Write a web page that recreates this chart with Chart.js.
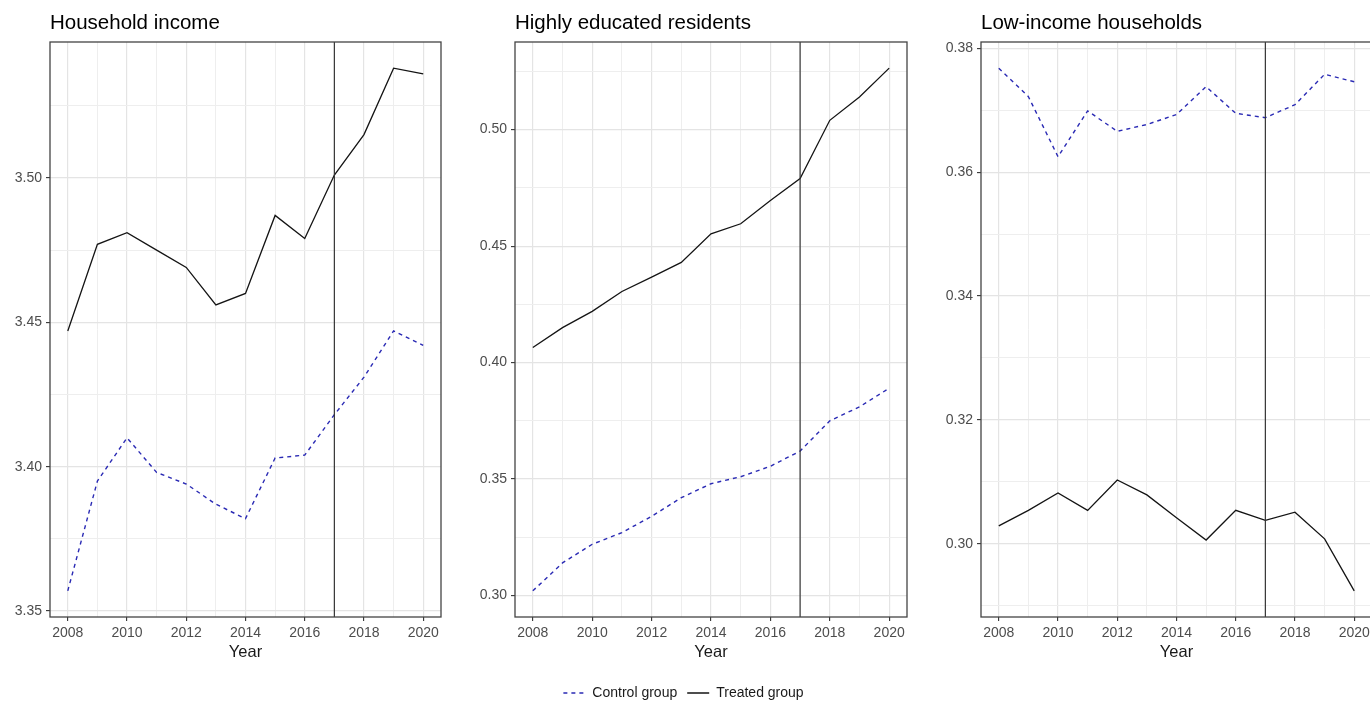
<!DOCTYPE html>
<html><head><meta charset="utf-8">
<script src="https://cdn.jsdelivr.net/npm/chart.js@4/dist/chart.umd.min.js"></script>
<style>
html,body{margin:0;padding:0;overflow:hidden;background:#fff;width:1370px;height:701px;position:relative;}
canvas{position:absolute;top:0;}
</style></head><body>
<canvas id="c1" width="460" height="701" style="left:0px"></canvas>
<canvas id="c2" width="452" height="710" style="left:460px"></canvas>
<canvas id="c3" width="460" height="701" style="left:920px"></canvas>
<script>
// ---- data ----
const years = [2008, 2009, 2010, 2011, 2012, 2013, 2014, 2015, 2016, 2017, 2018, 2019, 2020];
const seriesNames = ['Control group', 'Treated group'];
const panelTitles = ['Household income', 'Highly educated residents', 'Low-income households'];
const axisTitle = 'Year';
const treatmentYear = 2017;

const incomeControl = [3.357, 3.395, 3.410, 3.398, 3.394, 3.387, 3.382, 3.403, 3.404, 3.418, 3.431, 3.447, 3.442];
const incomeTreated = [3.447, 3.477, 3.481, 3.475, 3.469, 3.456, 3.460, 3.487, 3.479, 3.501, 3.515, 3.538, 3.536];

const eduControl = [0.302, 0.314, 0.322, 0.327, 0.334, 0.342, 0.348, 0.351, 0.3555, 0.362, 0.375, 0.381, 0.389];
const eduTreated = [0.4065, 0.415, 0.422, 0.4305, 0.4367, 0.443, 0.4553, 0.4596, 0.4696, 0.479, 0.504, 0.514, 0.5264];

const lowControl = [0.3768, 0.3722, 0.3625, 0.3699, 0.3666, 0.3677, 0.3693, 0.3738, 0.3695, 0.3688, 0.3709, 0.3758, 0.3746];
const lowTreated = [0.3029, 0.3054, 0.3082, 0.3054, 0.3103, 0.3079, 0.3042, 0.3006, 0.3054, 0.3038, 0.3051, 0.3008, 0.2924];

const yMajorSteps = [0.05, 0.05, 0.02];
const xMajorStep = 2;

// ---- styling / layout ----
Chart.defaults.font.family = "'Liberation Sans', Arial, sans-serif";
const FONT = "'Liberation Sans', Arial, sans-serif";
const controlColor = '#2a2ab4';
const treatedColor = '#141414';

const panelDecor = {
  id: 'panelDecor',
  afterDatasetsDraw(chart) {
    const {ctx, chartArea: a, scales: {x}} = chart;
    const px = x.getPixelForValue(treatmentYear);
    ctx.save();
    ctx.strokeStyle = '#333';
    ctx.lineWidth = 1.2;
    ctx.beginPath();
    ctx.moveTo(px, a.top);
    ctx.lineTo(px, a.bottom);
    ctx.stroke();
    ctx.strokeStyle = '#444';
    ctx.lineWidth = 1.3;
    ctx.strokeRect(a.left, a.top, a.right - a.left, a.bottom - a.top);
    ctx.restore();
  }
};

function isMult(v, step) {
  const r = v / step;
  return Math.abs(r - Math.round(r)) < 1e-6;
}

function makeChart(id, title, control, treated, majorStep, lay) {
  const all = control.concat(treated);
  const dMin = Math.min(...all), dMax = Math.max(...all);
  const ex = (dMax - dMin) * 0.05;
  const yrMin = Math.min(...years), yrMax = Math.max(...years);
  const xex = (yrMax - yrMin) * 0.05;
  return new Chart(document.getElementById(id), {
    type: 'line',
    data: {
      datasets: [
        {
          label: seriesNames[0],
          data: years.map((yr, i) => ({x: yr, y: control[i]})),
          borderColor: controlColor,
          backgroundColor: 'rgba(0,0,0,0)',
          borderWidth: 1.4,
          borderDash: [4, 4],
          pointRadius: 0,
          tension: 0,
          fill: false
        },
        {
          label: seriesNames[1],
          data: years.map((yr, i) => ({x: yr, y: treated[i]})),
          borderColor: treatedColor,
          backgroundColor: 'rgba(0,0,0,0)',
          borderWidth: 1.3,
          pointRadius: 0,
          tension: 0,
          fill: false
        }
      ]
    },
    options: {
      responsive: false,
      animation: false,
      events: [],
      layout: {padding: {left: 0, right: lay.padRight, top: 0, bottom: lay.padBottom}},
      scales: {
        x: {
          type: 'linear',
          min: yrMin - xex,
          max: yrMax + xex,
          afterFit: (s) => { s.height = lay.xHeight; },
          border: {display: false},
          grid: {
            color: (c) => isMult(c.tick.value, xMajorStep) ? '#e4e4e4' : '#eeeeee',
            lineWidth: (c) => isMult(c.tick.value, xMajorStep) ? 1.2 : 1,
            drawTicks: true,
            tickLength: 4,
            tickWidth: 1.1,
            tickColor: (c) => isMult(c.tick.value, xMajorStep) ? '#333' : 'rgba(0,0,0,0)'
          },
          ticks: {
            stepSize: 1,
            maxTicksLimit: 100,
            includeBounds: false,
            autoSkip: false,
            maxRotation: 0,
            padding: 4,
            color: '#4d4d4d',
            font: {size: 14, family: FONT},
            callback: (v) => isMult(v, xMajorStep) ? String(Math.round(v)) : ''
          },
          title: {
            display: true,
            text: axisTitle,
            color: '#1a1a1a',
            font: {size: 16.5, family: FONT},
            padding: {top: 0, bottom: lay.titlePadBottom}
          }
        },
        y: {
          type: 'linear',
          min: dMin - ex,
          max: dMax + ex,
          afterFit: (s) => { s.width = lay.yWidth; },
          border: {display: false},
          grid: {
            color: (c) => isMult(c.tick.value, majorStep) ? '#e4e4e4' : '#eeeeee',
            lineWidth: (c) => isMult(c.tick.value, majorStep) ? 1.2 : 1,
            drawTicks: true,
            tickLength: 4,
            tickWidth: 1.1,
            tickColor: (c) => isMult(c.tick.value, majorStep) ? '#333' : 'rgba(0,0,0,0)'
          },
          ticks: {
            stepSize: majorStep / 2,
            maxTicksLimit: 100,
            includeBounds: false,
            autoSkip: false,
            padding: 4,
            color: '#4d4d4d',
            font: {size: 14, family: FONT},
            callback: (v) => isMult(v, majorStep) ? v.toFixed(2) : ''
          }
        }
      },
      plugins: {
        title: {
          display: true,
          text: title,
          align: 'start',
          fullSize: false,
          color: '#000',
          font: {size: 20.5, weight: 'normal', family: FONT},
          padding: {top: 10.7, bottom: 6.7}
        },
        legend: {
          display: lay.legend,
          position: 'bottom',
          align: 'center',
          labels: {
            usePointStyle: false,
            boxWidth: 22,
            boxHeight: 0,
            padding: 10,
            color: '#1a1a1a',
            font: {size: 14, family: FONT}
          }
        },
        tooltip: {enabled: false}
      }
    },
    plugins: [panelDecor]
  });
}

makeChart('c1', panelTitles[0], incomeControl, incomeTreated, yMajorSteps[0],
  {yWidth: 50, padRight: 19, padBottom: 38, xHeight: 46, titlePadBottom: 0.5, legend: false});
makeChart('c2', panelTitles[1], eduControl, eduTreated, yMajorSteps[1],
  {yWidth: 55, padRight: 5, padBottom: 0, xHeight: 59, titlePadBottom: 13.5, legend: true});
makeChart('c3', panelTitles[2], lowControl, lowTreated, yMajorSteps[2],
  {yWidth: 61, padRight: 8, padBottom: 38, xHeight: 46, titlePadBottom: 0.5, legend: false});
</script>
</body></html>
